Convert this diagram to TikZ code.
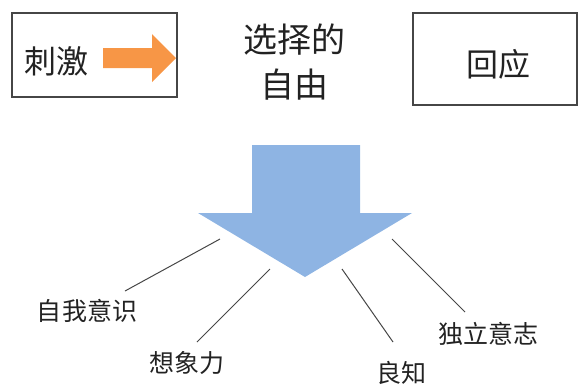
\documentclass[tikz,border=0pt]{standalone}
\usepackage{fontspec}
\newfontfamily\cjk{Noto Sans CJK SC}
\definecolor{txt}{RGB}{34,34,34}
\definecolor{orangefill}{RGB}{247,150,70}
\definecolor{bluefill}{RGB}{142,180,227}
\definecolor{linegray}{RGB}{70,70,70}
\tikzset{
  frame/.style={draw=linegray, line width=1.1bp},
  bigtxt/.style={text=txt, inner sep=0pt, font=\cjk\fontsize{32bp}{40bp}\selectfont},
  midtxt/.style={text=txt, inner sep=0pt, align=center, font=\cjk\fontsize{34bp}{45bp}\selectfont},
  smalltxt/.style={text=txt, inner sep=0pt, font=\cjk\fontsize{25bp}{30bp}\selectfont},
  leader/.style={draw=linegray, line width=1bp},
}
\begin{document}
\begin{tikzpicture}[x=1bp, y=-1bp]
\useasboundingbox (0,0) rectangle (578,387);
% boxes
\draw[frame] (12,13) rectangle (177,97);
\draw[frame] (413,13) rectangle (577,105);
\node[bigtxt] (stim) at (56,61) {刺激};
\node[bigtxt] (resp) at (498,64) {回应};
\node[midtxt] (free) at (294,62) {选择的\\自由};
% orange arrow
\fill[orangefill] (103,48) -- (152,48) -- (152,34) -- (176,58) -- (152,82) -- (152,68) -- (103,68) -- cycle;
% blue arrow
\fill[bluefill] (252,145) -- (360,145) -- (360,213) -- (412,213) -- (305,277) -- (198,213) -- (252,213) -- cycle;
% labels
\node[smalltxt] (self) at (87,311) {自我意识};
\node[smalltxt] (imag) at (187,363) {想象力};
\node[smalltxt] (cons) at (401,373) {良知};
\node[smalltxt] (will) at (488,334) {独立意志};
% leader line ends
\coordinate (a1) at (220,239);
\coordinate (a2) at (270,269);
\coordinate (a3) at (342,269);
\coordinate (a4) at (392,239);
\coordinate (b1) at (125,291);
\coordinate (b2) at (197,342);
\coordinate (b3) at (393,342);
\coordinate (b4) at (465,312);
\draw[leader] (a1) -- (b1);
\draw[leader] (a2) -- (b2);
\draw[leader] (a3) -- (b3);
\draw[leader] (a4) -- (b4);
\end{tikzpicture}
\end{document}
